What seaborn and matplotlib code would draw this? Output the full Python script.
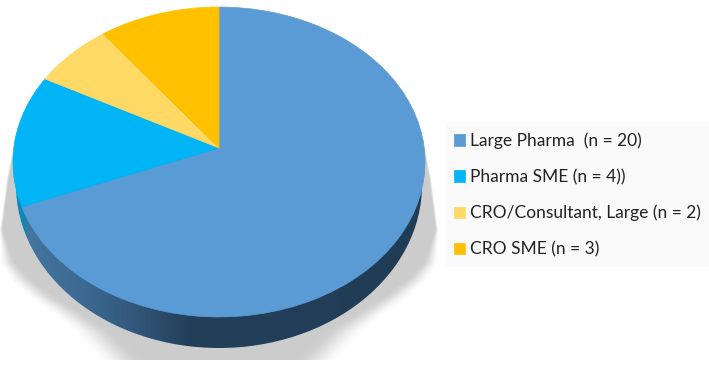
import numpy as np
import seaborn as sns
import matplotlib
matplotlib.use('Agg')
import matplotlib.pyplot as plt
from matplotlib.colors import LinearSegmentedColormap
from matplotlib.patches import Ellipse, Rectangle
from matplotlib.transforms import Transform

labels = ['Large Pharma  (n = 20)', 'Pharma SME (n = 4))',
          'CRO/Consultant, Large (n = 2)', 'CRO SME (n = 3)']
counts = [20, 4, 2, 3]
colors = ['#5b9bd5', '#00b4f5', '#ffd966', '#ffc000']

W, H = 709, 368
# apex of the pie in pixels and the tilt of the disc
cx, cy = 219, 148
rx, ry, tilt = 205.2, 153.7, 0.0903


class Tilted(Transform):
    # projects the flat unit pie onto the tilted disc
    input_dims = output_dims = 2

    def transform_non_affine(self, values):
        xy = np.asarray(values, dtype=float)
        w = 1 + tilt * xy[:, 1]
        return np.column_stack([cx + rx * xy[:, 0] / w, cy - ry * xy[:, 1] / w])


sns.set_theme(style='white')
plt.rcParams['font.family'] = ['Lato', 'DejaVu Sans']

fig = plt.figure(figsize=(W / 100, H / 100), dpi=100)
ax = fig.add_axes([0, 0, 1, 1])

wedges, _ = ax.pie(counts, colors=colors, startangle=90, counterclock=False,
                   wedgeprops={'linewidth': 0.5})
for w in wedges:
    w.set_edgecolor(w.get_facecolor())
    w.set_transform(Tilted() + ax.transData)
    w.set_zorder(4)

ax.set_aspect('auto')
ax.axis('off')

# soft shadow under the disc: width and blur change with height, cut off at y=360
xx, yy = np.meshgrid(np.arange(W) + 0.5, np.arange(H) + 0.5)
half = np.interp(yy, [125, 135, 180, 230, 263, 280, 297, 310, 330, 360],
                 [190, 204, 213, 220, 220, 210, 192, 174, 148, 122])
blur = np.interp(yy, [130, 230, 250, 280, 310, 360], [2, 4, 12, 25, 35, 48])
t = np.clip((half - np.abs(xx - 219)) / blur, 0, 1)
shadow = np.zeros((H, W, 4))
shadow[..., :3] = 0.8
shadow[..., 3] = t * t * (3 - 2 * t)
shadow[yy > 360, 3] = 0
shadow[yy < 125, 3] = 0
ax.imshow(shadow, extent=(0, W, H, 0), aspect='auto', zorder=1, interpolation='bilinear')

# side wall of the disc, darker towards the right
wall_cmap = LinearSegmentedColormap.from_list('wall', [
    (0.0, '#0a8fc4'), (0.052, '#0f86b8'), (0.062, '#44769f'), (0.2, '#3b6890'),
    (0.3, '#33587b'), (0.43, '#233f5a'), (1.0, '#213c55')])
wall = ax.imshow(np.linspace(0, 1, 440).reshape(1, -1), cmap=wall_cmap,
                 extent=(0, 440, H, 0), aspect='auto', zorder=2)
wall_clip = Ellipse((219, 185), 406, 326, transform=ax.transData)
ax.add_patch(wall_clip)
wall_clip.set_visible(False)
wall.set_clip_path(wall_clip)

ax.set_xlim(0, W)
ax.set_ylim(H, 0)

# legend panel
ax.add_patch(Rectangle((446, 122), 263, 145, facecolor='#fafafa', edgecolor='none', zorder=5))
leg = ax.legend(wedges, labels, loc='center left', bbox_to_anchor=(454 / W, 1 - 195 / H),
                frameon=False, fontsize=12.5, labelspacing=1.14, handlelength=0.62,
                handleheight=0.62, handletextpad=0.3, borderpad=0, borderaxespad=0,
                labelcolor='#222222')
leg.set_zorder(6)

fig.savefig('out.png', dpi=100)
